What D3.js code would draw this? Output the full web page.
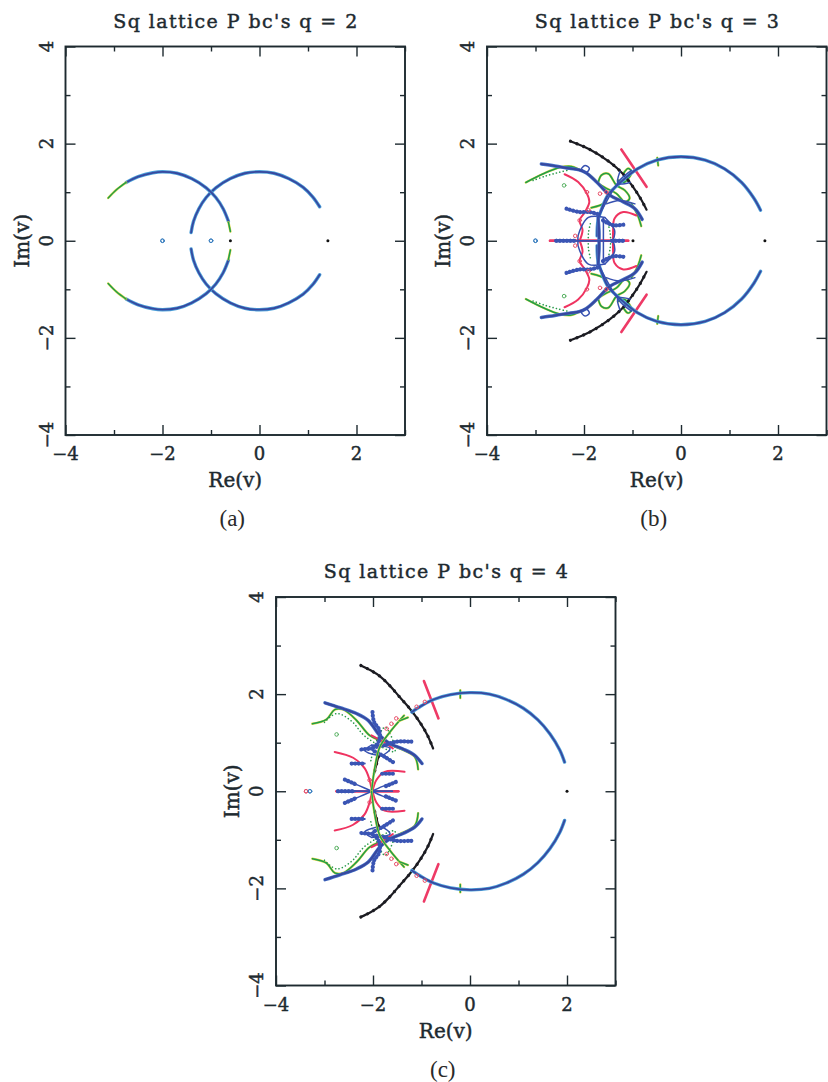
<!DOCTYPE html>
<html><head><meta charset="utf-8">
<script src="https://cdn.jsdelivr.net/npm/d3@7"></script>
<style>html,body{margin:0;background:#fff}svg{display:block}</style></head><body>
<script>
// Upper half-plane curves as [Re(v), Im(v)]; every panel is symmetric about Im(v)=0.
const xTicks=[-4,-3,-2,-1,0,1,2,3], yTicks=[-4,-3,-2,-1,0,1,2,3,4];
const xLabelTicks=[-4,-2,0,2], yLabelTicks=[-4,-2,0,2,4];

const q2RightArc=[[1.24,.70],[1.1,.90],[.9,1.10],[.6,1.28],[.3,1.39],[0,1.42],[-.3,1.39],[-.6,1.28],[-.9,1.09],[-1.1,.89],[-1.25,.66],[-1.36,.4],[-1.41,.17]];
const q2LeftArc=[[-2.75,1.2],[-2.5,1.32],[-2.2,1.40],[-2,1.42],[-1.7,1.39],[-1.4,1.28],[-1.1,1.09],[-.9,.89],[-.75,.66],[-.64,.4]];
const q2LeftGreen=[[-3.12,.88],[-2.95,1.05],[-2.75,1.2]];
const q2TipGreen=[[-.64,.38],[-.6,.19]];
const q2Open=[[-2,0],[-1,0]], q2Black=[[-.6,0],[1.41,0]];

const q3Circle=[[1.64,.63],[1.5,.88],[1.25,1.2],[.9,1.48],[.5,1.66],[0,1.73],[-.5,1.66],[-.9,1.48],[-1.25,1.2],[-1.5,.95],[-1.62,.70],[-1.71,.42],[-1.73,.1]];
const q3BlackArc=[[-2.28,2.05],[-1.88,1.88],[-1.47,1.62],[-1.2,1.38],[-.99,1.11],[-.84,.88],[-.71,.64]];
const q3RedBar=[[-1.23,1.88],[-.71,1.11]];
const q3GreenTick=[[-.49,1.71],[-.47,1.55]];
const q3BlueA=[[-2.88,1.58],[-2.60,1.54],[-2.30,1.49],[-2.10,1.46],[-1.96,1.40],[-1.74,1.21],[-1.47,.94],[-1.19,.80],[-.95,.66],[-.80,.44]];
const q3BlueNode=[[-2.05,1.49],[-1.98,1.55],[-1.89,1.49],[-1.96,1.40],[-2.05,1.47]];
const q3GreenTail=[[-3.20,1.20],[-2.84,1.38],[-2.50,1.51],[-2.26,1.53],[-2.09,1.46],[-1.88,1.35],[-1.71,1.18]];
const q3GreenDots=[[-3.05,1.24],[-2.8,1.33],[-2.55,1.40],[-2.3,1.46]];
const q3GreenLoop=[[-1.71,1.18],[-1.64,1.35],[-1.50,1.38],[-1.33,1.14],[-1.16,1.04],[-1.06,.87],[-1.16,.80],[-1.33,.97],[-1.54,1.08],[-1.71,1.18]];
const q3GreenLoop2=[[-1.19,1.38],[-1.09,1.49],[-1.02,1.42],[-1.16,1.21],[-1.30,1.25]];
const q3GreenDown=[[-1.02,.76],[-.89,.52],[-.82,.30]];
const q3GreenBit=[[-1.85,.68],[-1.67,.73],[-1.54,.80]];
const q3GreenInL=[[-1.87,.35],[-1.91,.15],[-1.91,0]];
const q3GreenInR=[[-1.50,.35],[-1.46,.15],[-1.45,0]];
const q3RedLeft=[[-2.40,1.37],[-2.12,1.21],[-1.94,.97],[-1.89,.80],[-1.98,.59],[-2.09,.42],[-2.03,.22],[-2.09,0]];
const q3RedRight=[[-.92,.52],[-1.19,.59],[-1.37,.46],[-1.40,.22],[-1.40,0]];
const q3RedAxis=[[-2.70,0],[-1.09,0]];
const q3BlueAxis=[[-2.57,0],[-1.19,0]];
const q3BeadAxisL=[[-2.57,0],[-2.18,0]];
const q3BeadAxisR=[[-1.42,0],[-1.19,0]];
const q3BlueStubL=[[-2.36,.66],[-2.09,.59],[-1.88,.59],[-1.72,.55]];
const q3BlueStubR=[[-1.19,.33],[-1.40,.32],[-1.61,.42]];
const q3BlueLensL=[[-1.57,.48],[-1.91,.48],[-2.12,.11],[-2.12,0]];
const q3BlueLensR=[[-1.57,.48],[-1.37,.22],[-1.40,0]];
const q3BlueSpine=[[-1.71,.48],[-1.69,.2],[-1.69,0]];
const q3BlueInner=[[-1.60,.46],[-1.60,.2],[-1.60,0]];
const q3BlueFan=[[-1.71,.46],[-1.54,.80],[-1.26,1.25],[-1.02,1.45]];
const q3BlueFan2=[[-1.54,.76],[-1.27,.83],[-.95,.76]];
const q3BlueFan3=[[-1.26,1.42],[-1.30,1.18],[-1.05,1.20]];
const q3RedOpen=[[-1.91,.63],[-1.67,.97],[-1.54,1.0],[-1.94,1.0],[-2.09,.42],[-2.18,.1]];
const q3GreenTri=[[-2.41,1.14]];
const q3BlueDots=[[-3,0]], q3Black=[[-.99,0],[1.73,0]];

const q4Circle=[[1.95,.6],[1.85,.85],[1.65,1.18],[1.4,1.47],[1.1,1.71],[.75,1.89],[.4,2.0],[0,2.03],[-.4,1.99],[-.75,1.89],[-1.0,1.76],[-1.2,1.63]];
const q4BlackArc=[[-2.25,2.59],[-2.05,2.49],[-1.86,2.37],[-1.65,2.17],[-1.45,1.94],[-1.24,1.70],[-1.04,1.43],[-.88,1.16],[-.76,.88]];
const q4RedBar=[[-.95,2.27],[-.65,1.50]];
const q4GreenTick=[[-.2,2.08],[-.2,1.92]];
const q4BlueA=[[-2.99,1.82],[-2.68,1.72],[-2.34,1.60],[-2.10,1.46],[-1.86,1.15],[-1.65,.98],[-1.38,.87],[-1.14,.74],[-.99,.57]];
const q4GreenB=[[-3.25,1.39],[-2.96,1.48],[-2.79,1.68],[-2.61,1.68],[-2.34,1.46],[-2.07,1.15],[-1.79,1.02],[-1.45,.88],[-1.14,.71],[-1.07,.45]];
const q4GreenDots=[[-3.0,1.42],[-2.75,1.6],[-2.45,1.45],[-2.15,1.12],[-1.55,.82],[-1.75,1.32],[-1.95,.98],[-2.05,.6]];
const q4GreenSpine=[[-1.36,1.56],[-1.65,1.22],[-1.86,.91],[-1.96,.50],[-2.03,0]];
const q4GreenStar=[[-1.46,1.45],[-1.28,1.52]];
const q4RedC=[[-2.79,.81],[-2.41,.69],[-2.17,.47],[-2.07,.23],[-2.02,0]];
const q4RedD=[[-1.35,.40],[-1.76,.40],[-1.93,.23],[-2.01,0]];
const q4RedE=[[-2.03,1.15],[-1.79,1.02],[-1.59,.88]];
const q4RedAxis=[[-2.75,0],[-1.48,0]];
const q4BlueAxis=[[-2.72,0],[-1.6,0]];
const q4BeadAxis=[[-2.72,0],[-2.37,0]];
const q4SpokeL=[[-2.58,.24],[-2.3,.12],[-2.02,0]];
const q4SpokeLTip=[[-2.58,.24],[-2.35,.14]];
const q4SpokeR=[[-1.53,.19],[-1.8,.1],[-2.02,0]];
const q4SpokeRTip=[[-1.53,.19],[-1.75,.1]];
const q4StubL=[[-2.44,.57],[-2.17,.57]];
const q4StubR=[[-1.59,.36],[-1.83,.36]];
const q4Wiggle=[[-2.01,1.63],[-1.98,1.43],[-1.87,1.26],[-1.87,1.05],[-1.95,.92]];
const q4Stub1=[[-1.21,1.02],[-1.52,1.02],[-1.76,.95],[-2.0,.90]];
const q4Box=[[-2.03,.95],[-1.65,.88],[-1.82,.74],[-2.17,.84],[-2.03,.95]];
const q4Stub2=[[-2.24,.86],[-2.0,.88]];
const q4Stub3=[[-1.59,.60],[-1.76,.71],[-2,.84]];
const q4BlackSpine=[[-1.89,.71],[-1.98,.36]];
const q4RedOpen=[[-1.52,1.50],[-1.62,1.39],[-1.72,1.29],[-1.10,1.74],[-.93,1.84],[-2.07,.23]];
const q4GreenTri=[[-2.75,1.17]];
const q4RedDots=[[-3.38,0]], q4BlueDots=[[-3.30,0]], q4Black=[[2.0,0]];

const panels=[
 {title:"Sq lattice P bc's q = 2",cap:"(a)",left:65.5,top:46.5,
  lines:[["band",q2RightArc],["band",q2LeftArc],["green",q2LeftGreen],["green",q2TipGreen]],
  opens:[["#3a7fc0",q2Open]],blacks:q2Black},
 {title:"Sq lattice P bc's q = 3",cap:"(b)",left:487,top:46.5,
  lines:[["green",q3GreenTail],["gdots",q3GreenDots],["green",q3GreenLoop],["green",q3GreenLoop2],["green",q3GreenDown],["green",q3GreenBit],["gdots",q3GreenInL],["gdots",q3GreenInR],["red",q3RedLeft],["red",q3RedRight],["redT",q3RedAxis],["redT",q3RedBar],["greenT",q3GreenTick],
   ["black",q3BlackArc],["band",q3Circle],["thick",q3BlueA],["thin",q3BlueNode],["beads",q3BlueStubL],["beads",q3BlueStubR],["thin",q3BlueLensL],["thin",q3BlueLensR],["thick",q3BlueSpine],["thin",q3BlueInner],["thin",q3BlueFan],["thin",q3BlueFan2],["thin",q3BlueFan3],["thin",q3BlueAxis],["beads",q3BeadAxisL],["beads",q3BeadAxisR]],
  opens:[["#e8506a",q3RedOpen],["#3a7fc0",q3BlueDots],["#55b060",q3GreenTri]],blacks:q3Black},
 {title:"Sq lattice P bc's q = 4",cap:"(c)",left:276,top:597,
  lines:[["green",q4GreenB],["gdots",q4GreenDots],["red",q4RedC],["red",q4RedD],["red",q4RedE],["redT",q4RedAxis],["redT",q4RedBar],["greenT",q4GreenTick],
   ["black",q4BlackArc],["band",q4Circle],["thick",q4BlueA],["thin",q4BlueAxis],["beads",q4BeadAxis],["thin",q4SpokeL],["beads",q4SpokeLTip],["thin",q4SpokeR],["beads",q4SpokeRTip],["beads",q4StubL],["beads",q4StubR],["beads",q4Wiggle],["beads",q4Stub1],["thin",q4Box],["beads",q4Stub2],["beads",q4Stub3],["black",q4BlackSpine],["green",q4GreenSpine],["green",q4GreenStar]],
  opens:[["#e8506a",q4RedOpen],["#e8506a",q4RedDots],["#3a7fc0",q4BlueDots],["#55b060",q4GreenTri]],blacks:q4Black}
];
const styles={
 band:[["#4a9ed8",3.4],["#37489f",1.8]],
 thick:[["#4a78cc",3.4],["#37489f",2.2]],
 beads:[["#3a55b4",2],["#3a55b4",4.2,"0.1 3.4"]],
 thin:[["#3650b0",1.5]],
 green:[["#e6d84a",2.4],["#1f9e4a",1.5]],
 greenT:[["#e6d84a",2.4],["#1f9e4a",1.4]],
 gdots:[["#2a9a4a",1.6,"0.1 3.4"]],
 red:[["#ef3360",2]],
 redT:[["#ee3a66",2.6]],
 black:[["#1c1c22",2.2],["#1c1c22",3.2,"0.1 7"]]
};
const W=828,H=1082,PW=339.5,PH=388.5;
const ink="#1e2a30";
const svg=d3.select("body").append("svg").attr("width",W).attr("height",H).attr("viewBox",[0,0,W,H]);
const fmt=d=>String(d).replace("-","\u2212");
const serif="'DejaVu Serif',serif";

panels.forEach(p=>{
 const x=d3.scaleLinear().domain([-4,3]).range([p.left,p.left+PW]);
 const y=d3.scaleLinear().domain([-4,4]).range([p.top+PH,p.top]);
 const g=svg.append("g");
 const major=d=>d%2===0;
 const ax=[
  [d3.axisBottom(x),p.top+PH,0,xTicks],
  [d3.axisTop(x),p.top,0,xTicks],
  [d3.axisLeft(y),0,p.left,yTicks],
  [d3.axisRight(y),0,p.left+PW,yTicks]];
 ax.forEach(([a,ty,tx,vals])=>{
  const n=g.append("g").attr("transform",`translate(${tx},${ty})`)
   .call(a.tickValues(vals).tickSize(-5).tickFormat(""));
  n.select(".domain").remove();
  n.selectAll(".tick line").attr("stroke",ink).attr("stroke-width",1.4)
   .each(function(d){
     const s=d3.select(this);
     const len=major(d)?10:5;
     if(s.attr("x2")!==null&&+s.attr("x2")!==0) s.attr("x2",+s.attr("x2")>0?len:-len);
     if(s.attr("y2")!==null&&+s.attr("y2")!==0) s.attr("y2",+s.attr("y2")>0?len:-len);
   });
 });
 g.append("rect").attr("x",p.left).attr("y",p.top).attr("width",PW).attr("height",PH)
  .attr("fill","none").attr("stroke",ink).attr("stroke-width",1.9);

 const T=(sel)=>sel.attr("font-family",serif).attr("fill",ink).attr("stroke",ink).attr("stroke-width",.45);
 g.selectAll(".xl").data(xLabelTicks).join("text").attr("class","xl")
  .attr("x",d=>x(d)).attr("y",p.top+PH+25).attr("text-anchor","middle").attr("font-size",18).text(fmt).call(T);
 g.selectAll(".yl").data(yLabelTicks).join("text").attr("class","yl")
  .attr("transform",d=>`translate(${p.left-13},${y(d)}) rotate(-90)`).attr("text-anchor","middle").attr("font-size",18).text(fmt).call(T);
 g.append("text").attr("x",x(-.5)).attr("y",p.top+PH+52).attr("text-anchor","middle").attr("font-size",20).text("Re(v)").call(T);
 g.append("text").attr("transform",`translate(${p.left-37},${y(0)}) rotate(-90)`).attr("text-anchor","middle").attr("font-size",20).text("Im(v)").call(T);
 g.append("text").attr("x",x(-.5)).attr("y",p.top-19).attr("text-anchor","middle").attr("font-size",19)
  .attr("textLength",244).attr("lengthAdjust","spacing").text(p.title).call(T);
 g.append("text").attr("x",x(-.5)-3).attr("y",p.top+PH+91).attr("text-anchor","middle")
  .attr("font-family","'Liberation Serif',serif").attr("font-size",23).attr("fill","#2a2a2a").text(p.cap);

 const line=d3.line().x(d=>x(d[0])).y(d=>y(d[1])).curve(d3.curveCatmullRom.alpha(.5));
 const mirror=pts=>pts.map(d=>[d[0],-d[1]]);
 const marks=svg.append("g").attr("fill","none").attr("stroke-linecap","round").attr("stroke-linejoin","round");
 p.lines.forEach(([kind,pts])=>{
  [pts,mirror(pts)].forEach(ps=>{
   styles[kind].forEach(([col,w,dash])=>{
    marks.append("path").attr("d",line(ps)).attr("stroke",col).attr("stroke-width",w)
     .attr("stroke-dasharray",dash||null);
   });
  });
 });
 p.opens.forEach(([col,pts])=>{
  marks.selectAll(null).data(pts.concat(mirror(pts))).join("circle")
   .attr("cx",d=>x(d[0])).attr("cy",d=>y(d[1])).attr("r",1.8)
   .attr("fill","none").attr("stroke",col).attr("stroke-width",1);
 });
 marks.selectAll(null).data(p.blacks).join("circle")
  .attr("cx",d=>x(d[0])).attr("cy",d=>y(d[1])).attr("r",1.5).attr("fill","#111").attr("stroke","none");
});
</script></body></html>
